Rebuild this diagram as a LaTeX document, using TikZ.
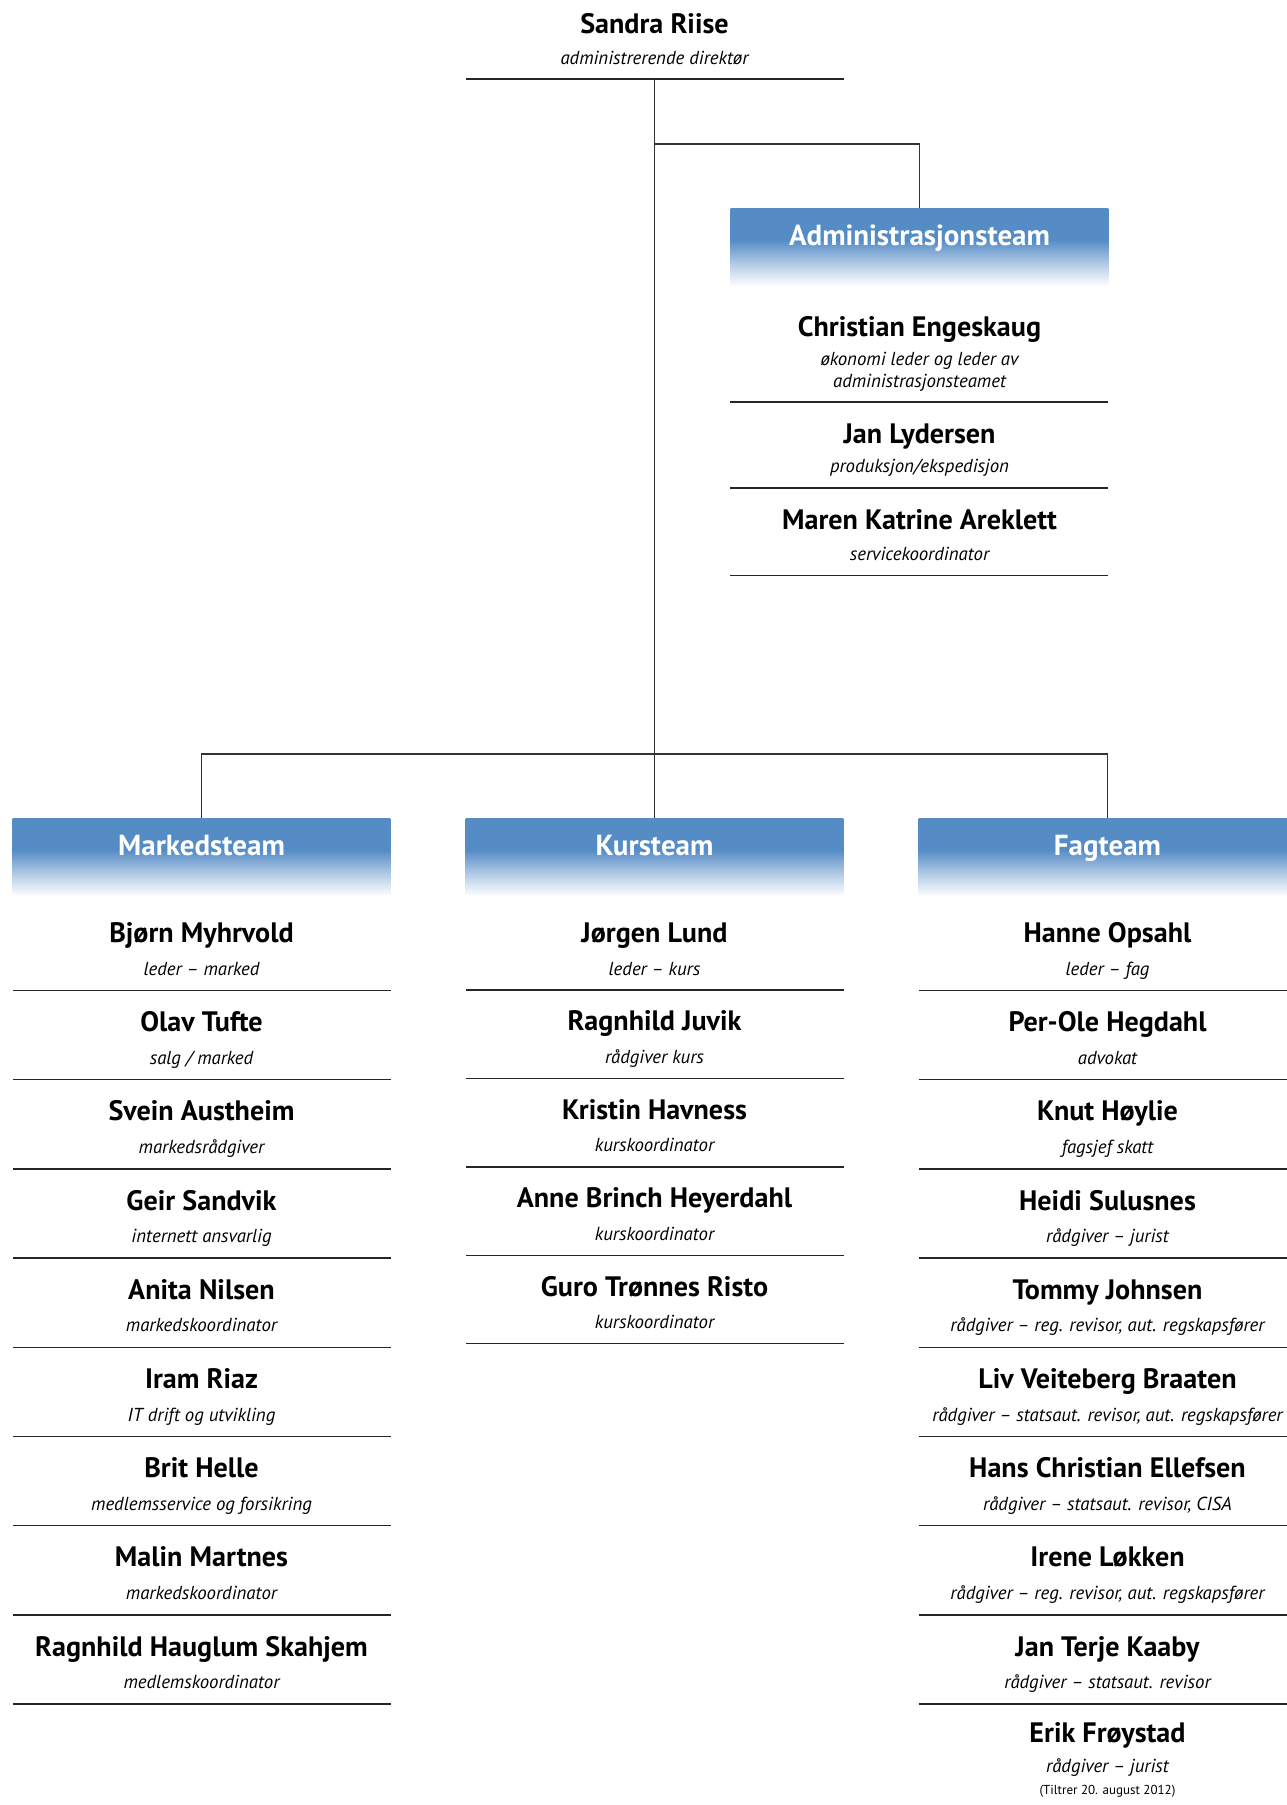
\documentclass[tikz,border=0pt]{standalone}
\usepackage{fontspec}
\setmainfont{PT Sans}
\usetikzlibrary{positioning}
\definecolor{teamblue}{RGB}{86,140,198}
\pgfdeclareverticalshading{teamfade}{100bp}{color(0bp)=(white); color(26bp)=(white); color(40bp)=(teamblue!45!white); color(55bp)=(teamblue); color(100bp)=(teamblue)}
\begin{document}
\begin{tikzpicture}[x=0.02cm,y=-0.02cm,
	person/.style={anchor=base,font=\fontsize{16}{19}\selectfont\bfseries},
	role/.style={anchor=base,font=\fontsize{10.7}{12.5}\selectfont\itshape,align=center},
	teambox/.style={shading=teamfade,minimum width=7.56cm,minimum height=1.6cm,inner ysep=0.15cm,text height=0.6cm,text depth=0.7cm,text=white,font=\fontsize{16.5}{19}\selectfont\bfseries},
	sepline/.style={black!85,line width=0.8pt},
	link/.style={black!80,line width=0.8pt}]
	\useasboundingbox (0,0) rectangle (1287,1805);
	\node[person] (ceo) at (654.5,33) {Sandra Riise};
	\node[role] (ceorole) at (654.5,64) {administrerende direktør};
	\draw[sepline] (466,79) -- (844,79);
	\coordinate (ceofoot) at (654.5,79);
	\coordinate (adminfork) at (654.5,144);
	\coordinate (teamfork) at (654.5,754);
	\node[teambox] (admin) at (919.5,248) {Administrasjonsteam};
	\node[teambox] (mark) at (201.5,858) {Markedsteam};
	\node[teambox] (kurs) at (654.5,858) {Kursteam};
	\node[teambox] (fag) at (1107.5,858) {Fagteam};
	\draw[link] (ceofoot) -- (kurs.north);
	\draw[link] (adminfork) -| (admin.north);
	\draw[link] (mark.north) |- (teamfork) -| (fag.north);
	% administrasjon
	\node[person] (chris) at (919.5,336) {Christian Engeskaug};
	\node[role] (chrisrole) at (919.5,387.5) {økonomi leder og leder av\\administrasjonsteamet};
	\draw[sepline] (730,402) -- +(378,0);
	\node[person] (jan) at (919.5,443) {Jan Lydersen};
	\node[role] (janrole) at (919.5,472.5) {produksjon/ekspedisjon};
	\draw[sepline] (730,488) -- +(378,0);
	\node[person] (maren) at (919.5,529) {Maren Katrine Areklett};
	\node[role] (marenrole) at (919.5,560.5) {servicekoordinator};
	\draw[sepline] (730,575.6) -- +(378,0);
	% markedsteam
	\foreach \n/\r [count=\i from 0] in {{Bjørn Myhrvold}/{leder – marked},{Olav Tufte}/{salg / marked},{Svein Austheim}/{markedsrådgiver},{Geir Sandvik}/{internett ansvarlig},{Anita Nilsen}/{markedskoordinator},{Iram Riaz}/{IT drift og utvikling},{Brit Helle}/{medlemsservice og forsikring},{Malin Martnes}/{markedskoordinator},{Ragnhild Hauglum Skahjem}/{medlemskoordinator}}{
		\pgfmathsetmacro\yy{942.5+89.2*\i}
		\node[person] (mark\i) at (201.5,\yy) {\n};
		\node[role] (markrole\i) at (201.5,{\yy+32.5}) {\r};
		\draw[sepline] (12.7,{\yy+48}) -- +(378,0);
	}
	% kursteam
	\foreach \n/\r [count=\i from 0] in {{Jørgen Lund}/{leder – kurs},{Ragnhild Juvik}/{rådgiver kurs},{Kristin Havness}/{kurskoordinator},{Anne Brinch Heyerdahl}/{kurskoordinator},{Guro Trønnes Risto}/{kurskoordinator}}{
		\pgfmathsetmacro\yy{942.5+88.4*\i}
		\node[person] (kurs\i) at (654.5,\yy) {\n};
		\node[role] (kursrole\i) at (654.5,{\yy+32.5}) {\r};
		\draw[sepline] (466,{\yy+47.5}) -- +(378,0);
	}
	% fagteam
	\foreach \n/\r [count=\i from 0] in {{Hanne Opsahl}/{leder – fag},{Per-Ole Hegdahl}/{advokat},{Knut Høylie}/{fagsjef skatt},{Heidi Sulusnes}/{rådgiver – jurist},{Tommy Johnsen}/{rådgiver – reg. revisor, aut. regskapsfører},{Liv Veiteberg Braaten}/{rådgiver – statsaut. revisor, aut. regskapsfører},{Hans Christian Ellefsen}/{rådgiver – statsaut. revisor, CISA},{Irene Løkken}/{rådgiver – reg. revisor, aut. regskapsfører},{Jan Terje Kaaby}/{rådgiver – statsaut. revisor}}{
		\pgfmathsetmacro\yy{942.5+89.2*\i}
		\node[person] (fag\i) at (1107.5,\yy) {\n};
		\node[role] (fagrole\i) at (1107.5,{\yy+32.5}) {\r};
		\draw[sepline] (918.7,{\yy+48}) -- +(378,0);
	}
	\node[person] (erik) at (1107.5,1742) {Erik Frøystad};
	\node[role] (erikrole) at (1107.5,1772.5) {rådgiver – jurist};
	\node[anchor=base,font=\fontsize{7.4}{9}\selectfont] (erikdate) at (1107.5,1794) {(Tiltrer 20. august 2012)};
\end{tikzpicture}
\end{document}
